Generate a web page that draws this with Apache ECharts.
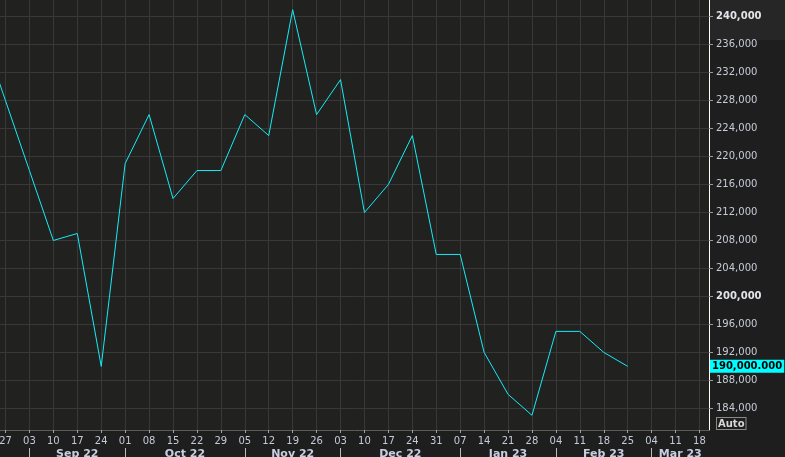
<!DOCTYPE html>
<html>
<head>
<meta charset="utf-8">
<script src="https://cdn.jsdelivr.net/npm/echarts@6/dist/echarts.min.js"></script>
<style>
html,body{margin:0;padding:0;background:#1e1e1e;}
#chart{width:785px;height:457px;}
</style>
</head>
<body>
<div id="chart"></div>
<script>
// Week index 0 = 27 Aug 2022; -1 = 20 Aug 2022 (just off the left edge)
var weekIndex = [-1,0,1,2,3,4,5,6,7,8,9,10,11,12,13,14,15,16,17,18,19,20,21,22,23,24,25,26];
var claims = [238000,228000,218000,208000,209000,190000,219000,226000,214000,218000,218000,226000,223000,241000,226000,231000,212000,216000,223000,206000,206000,192000,186000,183000,195000,195000,192000,190000];
var weekLabels = ['27','03','10','17','24','01','08','15','22','29','05','12','19','26','03','10','17','24','31','07','14','21','28','04','11','18','25','04','11','18'];
var monthStarts = [1,5,10,14,19,23,27];
var monthNames = ['Sep 22','Oct 22','Nov 22','Dec 22','Jan 23','Feb 23','Mar 23'];
var yTicks = [184000,188000,192000,196000,200000,204000,208000,212000,216000,220000,224000,228000,232000,236000,240000];
var boldTicks = [200000,240000];
var lastValueLabel = '190,000.000';

var xMin = -0.2298, xMax = 29.398;
var yMin = 180898, yMax = 242388;

var weekTickVals = weekLabels.map(function(_, i){ return i; });
var monthMid = monthStarts.map(function(s, k){
  var e = k + 1 < monthStarts.length ? monthStarts[k + 1] : xMax;
  return (s + e) / 2;
});
var seriesData = weekIndex.map(function(w, k){ return [w, claims[k]]; });

function fmt(v){ return String(v).replace(/\B(?=(\d{3})+(?!\d))/g, ','); }

var chart = echarts.init(document.getElementById('chart'), null, {renderer:'canvas'});
chart.setOption({
  backgroundColor: '#1e1e1e',
  animation: false,
  grid: {left: 0, right: 76, top: 0, bottom: 27, show: true, backgroundColor: '#212220', borderWidth: 0,
    containLabel: false, outerBoundsMode: 'none'},
  xAxis: [{
    type: 'value', min: xMin, max: xMax, position: 'bottom',
    axisLine: {show: true, onZero: false, lineStyle: {color: '#5c5c5c', width: 1}},
    axisTick: {show: true, customValues: weekTickVals, length: 3, lineStyle: {color: '#a0a0a0'}},
    axisLabel: {show: true, customValues: weekTickVals, margin: 6, color: '#c4cad6',
      fontFamily: 'DejaVu Sans', fontSize: 10,
      formatter: function(v){ return weekLabels[Math.round(v)] || ''; }},
    splitLine: {show: true, lineStyle: {color: '#383838', width: 1}}
  }, {
    type: 'value', min: xMin, max: xMax, position: 'bottom', offset: 18,
    axisLine: {show: false, onZero: false},
    axisTick: {show: true, customValues: monthStarts, length: 10, inside: false, lineStyle: {color: '#bbbbbb'}},
    axisLabel: {show: true, customValues: monthMid, margin: 1, color: '#c8d0e0',
      fontFamily: 'DejaVu Sans', fontSize: 11, fontWeight: 'bold',
      formatter: function(v){
        for (var k = 0; k < monthMid.length; k++) { if (Math.abs(monthMid[k] - v) < 1e-6) return monthNames[k]; }
        return '';
      }},
    splitLine: {show: false}
  }],
  yAxis: {
    type: 'value', min: yMin, max: yMax, position: 'right',
    axisLine: {show: true, onZero: false, lineStyle: {color: '#ffffff', width: 1}},
    axisTick: {show: true, customValues: yTicks, length: 4, lineStyle: {color: '#9a9a9a'}},
    axisLabel: {show: true, customValues: yTicks, margin: 7, color: '#c6ccd6',
      fontFamily: 'DejaVu Sans', fontSize: 10,
      formatter: function(v){
        return boldTicks.indexOf(v) >= 0 ? '{b|' + fmt(v) + '}' : fmt(v);
      },
      rich: {b: {fontWeight: 'bold', color: '#e2e4e8', fontFamily: 'DejaVu Sans', fontSize: 10}}},
    splitLine: {show: true, lineStyle: {color: '#383838', width: 1}}
  },
  graphic: [
    {type: 'rect', right: 0, top: 0, z: -1, shape: {width: 75, height: 40}, style: {fill: '#262626'}},
    {type: 'text', left: 716, top: 417, style: {text: 'Auto', fill: '#d8d8d8', font: 'bold 10px "DejaVu Sans"',
      borderColor: '#8a8a8a', borderWidth: 1, padding: [1, 1, 0, 1], backgroundColor: '#1e1e1e'}}
  ],
  series: [{
    type: 'line', xAxisIndex: 0, data: seriesData, showSymbol: false, symbol: 'none',
    lineStyle: {color: '#14ecf5', width: 1}, itemStyle: {color: '#14ecf5'}, clip: false,
    markLine: {
      silent: true, symbol: ['none', 'none'],
      lineStyle: {width: 1, color: 'rgba(0,0,0,0)', type: 'solid'},
      label: {show: true, position: 'end', distance: 1, formatter: lastValueLabel,
        backgroundColor: '#00ffff', color: '#000000', fontWeight: 'bold',
        fontFamily: 'DejaVu Sans', fontSize: 10, padding: [2, 2, 1, 2]},
      data: [{yAxis: claims[claims.length - 1]}]
    }
  }]
});
</script>
</body>
</html>
